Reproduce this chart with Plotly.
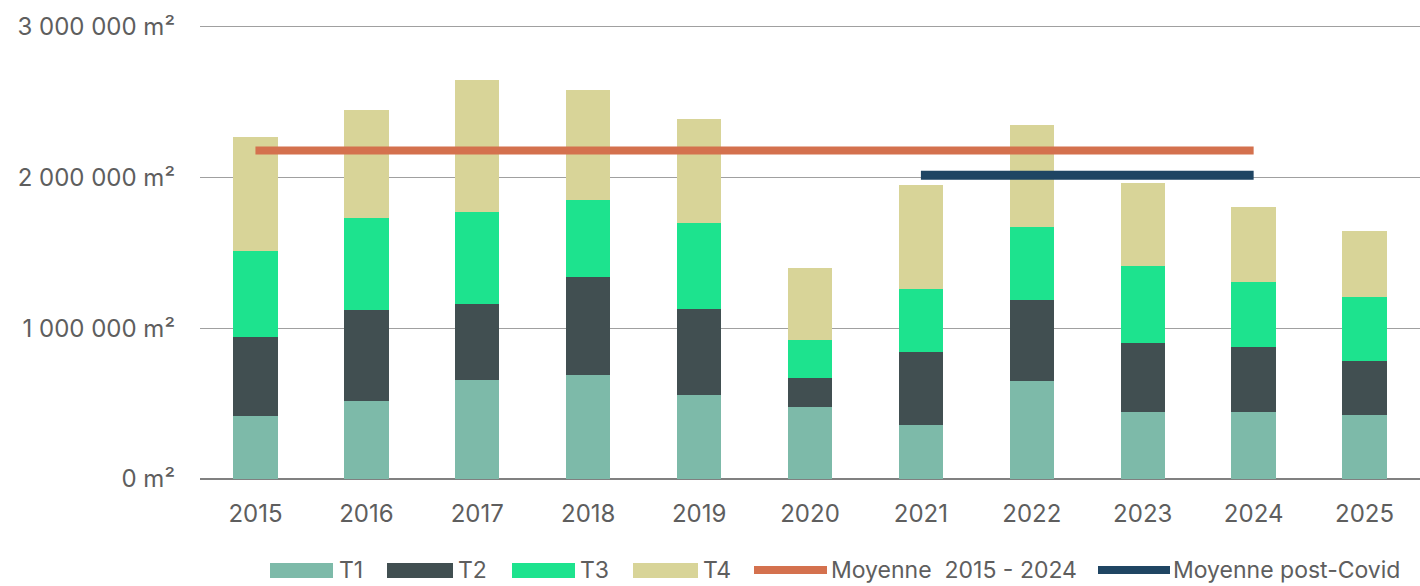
import plotly.graph_objects as go

# Données (m²) par trimestre
years = ["2015", "2016", "2017", "2018", "2019", "2020", "2021", "2022", "2023", "2024", "2025"]
t1 = [420000, 520000, 660000, 690000, 560000, 480000, 360000, 650000, 445000, 445000, 425000]
t2 = [520000, 600000, 500000, 650000, 570000, 190000, 480000, 540000, 455000, 430000, 360000]
t3 = [570000, 610000, 610000, 510000, 570000, 250000, 420000, 480000, 515000, 430000, 420000]
t4 = [760000, 720000, 880000, 730000, 690000, 480000, 690000, 680000, 550000, 500000, 440000]

moyenne_2015_2024 = 2180000
moyenne_post_covid = 2015000
periode_moyenne = ["2015", "2024"]
periode_post_covid = ["2021", "2024"]

y_ticks = [0, 1000000, 2000000, 3000000]
y_tick_labels = ["0 m²", "1 000 000 m²", "2 000 000 m²", "3 000 000 m²"]

colors = {
    "T1": "#7DBAA9",
    "T2": "#414F51",
    "T3": "#1DE38E",
    "T4": "#D8D498",
    "moy": "#D4714E",
    "covid": "#1F4563",
}

FONT = "Inter"
TEXT_COLOR = "#5E5E5E"

fig = go.Figure()

for name, vals in [("T1", t1), ("T2", t2), ("T3", t3), ("T4", t4)]:
    fig.add_trace(go.Bar(
        x=years, y=vals, name=name,
        marker_color=colors[name], marker_line_width=0,
        showlegend=False,
    ))

fig.add_trace(go.Scatter(
    x=periode_moyenne, y=[moyenne_2015_2024] * 2, mode="lines",
    name="Moyenne  2015 - 2024", line=dict(color=colors["moy"], width=8),
    showlegend=False,
))
fig.add_trace(go.Scatter(
    x=periode_post_covid, y=[moyenne_post_covid] * 2, mode="lines",
    name="Moyenne post-Covid", line=dict(color=colors["covid"], width=9),
    showlegend=False,
))

# Légende dessinée à la main (positions en pixels -> paper)
W, H = 1420, 586
L, R, T, B = 200, 0, 25, 107
pw, ph = W - L - R, H - T - B


def px_x(x):
    return (x - L) / pw


def px_y(y):
    return (H - B - y) / ph


leg_y = 570
legend_items = [
    ("T1", "rect", 270, 333, 337),
    ("T2", "rect", 387, 453, 456),
    ("T3", "rect", 512, 575, 578),
    ("T4", "rect", 633, 698, 701),
    ("Moyenne  2015 - 2024", "line", 754, 827, 829),
    ("Moyenne post-Covid", "line", 1098, 1170, 1171),
]
key_colors = [colors["T1"], colors["T2"], colors["T3"], colors["T4"], colors["moy"], colors["covid"]]

shapes = []
annotations = []
for (label, kind, x0, x1, xt), col in zip(legend_items, key_colors):
    if kind == "rect":
        shapes.append(dict(
            type="rect", xref="paper", yref="paper",
            x0=px_x(x0), x1=px_x(x1), y0=px_y(leg_y + 8), y1=px_y(leg_y - 7),
            fillcolor=col, line_width=0,
        ))
    else:
        shapes.append(dict(
            type="line", xref="paper", yref="paper",
            x0=px_x(x0), x1=px_x(x1), y0=px_y(leg_y), y1=px_y(leg_y),
            line=dict(color=col, width=8),
        ))
    annotations.append(dict(
        text=label, xref="paper", yref="paper",
        x=px_x(xt), y=px_y(leg_y), xanchor="left", yanchor="middle",
        showarrow=False, font=dict(family=FONT, size=23, color=TEXT_COLOR),
    ))

fig.update_layout(
    barmode="stack",
    bargap=0.6,
    width=W, height=H,
    margin=dict(l=L, r=R, t=T, b=B),
    paper_bgcolor="white",
    plot_bgcolor="white",
    font=dict(family=FONT, size=24, color=TEXT_COLOR),
    showlegend=False,
    shapes=shapes,
    annotations=annotations,
    xaxis=dict(
        type="category",
        showgrid=False,
        showline=False,
        ticks="",
        ticklabelstandoff=18,
        tickfont=dict(family=FONT, size=24, color=TEXT_COLOR),
    ),
    yaxis=dict(
        range=[0, 3012000],
        tickvals=y_ticks,
        ticktext=y_tick_labels,
        showgrid=True,
        gridcolor="#A0A0A0",
        gridwidth=1,
        zeroline=True,
        zerolinecolor="#808080",
        zerolinewidth=2,
        showline=False,
        ticks="",
        ticklabelstandoff=24,
        tickfont=dict(family=FONT, size=24, color=TEXT_COLOR),
    ),
)

# la page HTML a une marge de 8px par défaut
fig.write_html(
    "out.html",
    config={"displayModeBar": False},
    post_script="document.body.style.margin='0';",
)
